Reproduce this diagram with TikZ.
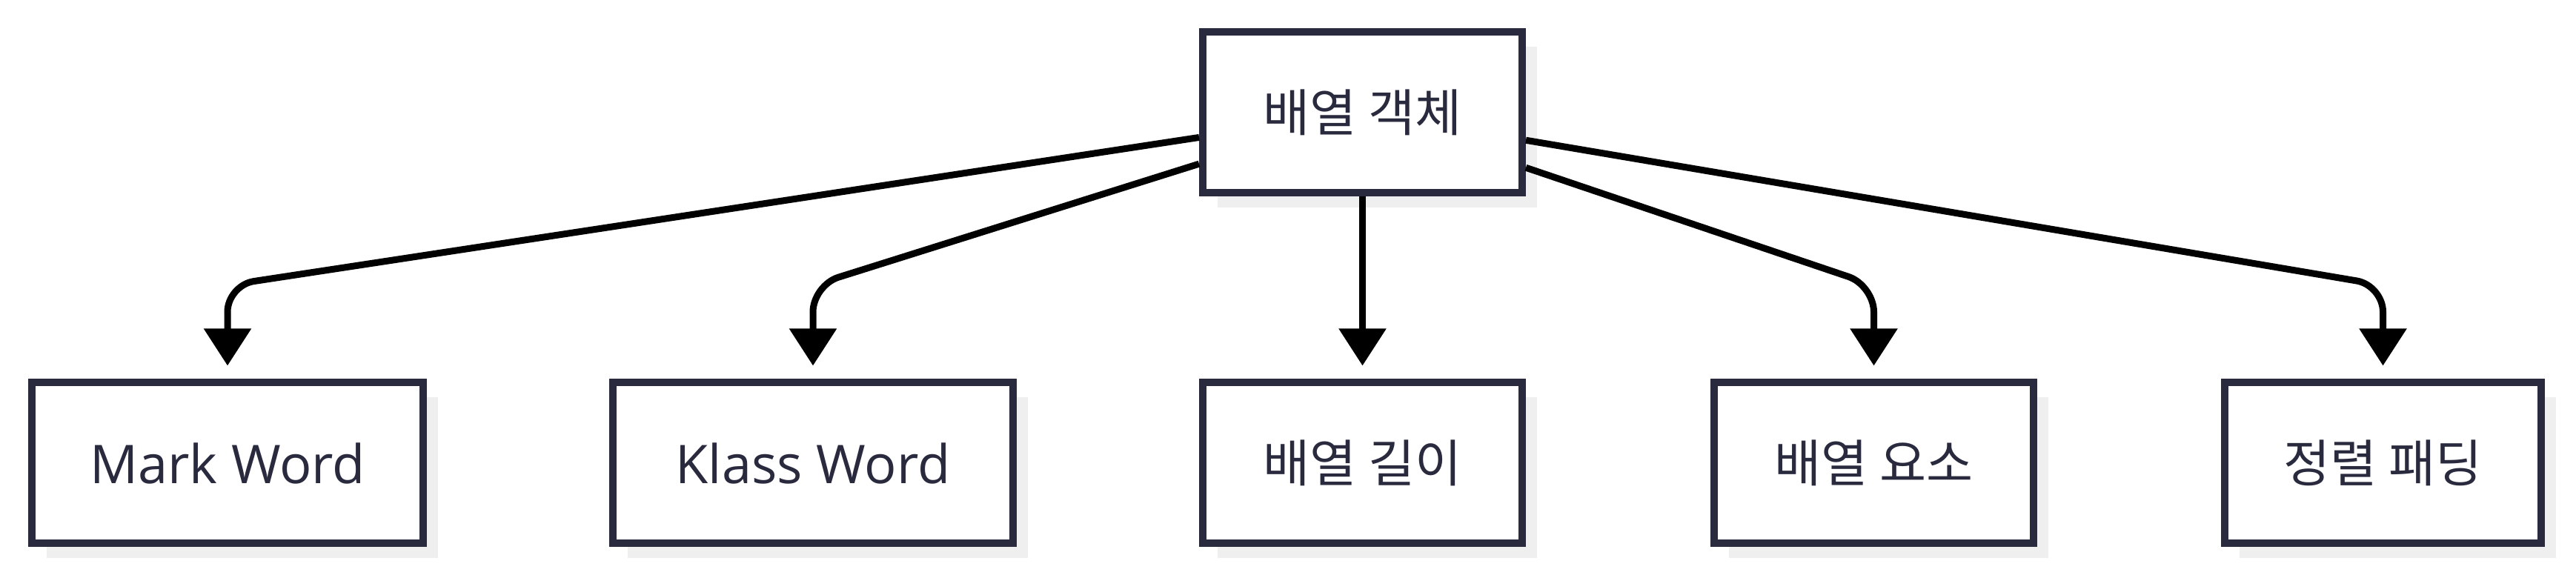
\documentclass[tikz,border=0pt]{standalone}
\usepackage{fontspec}
\setmainfont{Open Sans}
\newfontfamily\hangul{Noto Sans CJK KR}
\usepackage{tikz}
\usetikzlibrary{arrows.meta,shadows}
\definecolor{boxline}{HTML}{2A2A3F}
\definecolor{boxshade}{HTML}{EFEFEF}

\begin{document}
\begin{tikzpicture}[
    box/.style={draw=boxline, line width=0.1cm, fill=white, text=boxline,
      minimum width=4.31cm, minimum height=2.17cm, inner sep=0pt,
      drop shadow={shadow xshift=0.2cm, shadow yshift=-0.2cm, fill=boxshade, opacity=1}},
    kr/.style={font=\hangul\fontsize{19.5pt}{23pt}\selectfont},
    en/.style={font=\fontsize{20.5pt}{24pt}\selectfont},
    edge/.style={line width=0.09cm, rounded corners=0.36cm, shorten >=0.18cm,
      -{Triangle[width=0.62cm, length=0.5cm]}}
  ]
    \useasboundingbox (0, 0) rectangle (34.76, 7.8);

    \node[box, kr] (arr) at (18.385, 6.28) {배열 객체};

    \node[box, en, minimum width=5.28cm] (mark) at (3.07, 1.55) {Mark Word};
    \node[box, en, minimum width=5.40cm] (klass) at (10.97, 1.55) {Klass Word};
    \node[box, kr] (len) at (18.385, 1.55) {배열 길이};
    \node[box, kr] (elem) at (25.285, 1.55) {배열 요소};
    \node[box, kr, minimum width=4.27cm] (pad) at (32.155, 1.55) {정렬 패딩};

    \coordinate (markbend) at (3.07, 3.95);
    \coordinate (klassbend) at (10.97, 3.95);
    \coordinate (elembend) at (25.285, 3.95);
    \coordinate (padbend) at (32.155, 3.95);

    \draw[edge] (arr) -- (markbend) -- (mark);
    \draw[edge] (arr) -- (klassbend) -- (klass);
    \draw[edge] (arr) -- (len);
    \draw[edge] (arr) -- (elembend) -- (elem);
    \draw[edge] (arr) -- (padbend) -- (pad);
  \end{tikzpicture}
\end{document}
